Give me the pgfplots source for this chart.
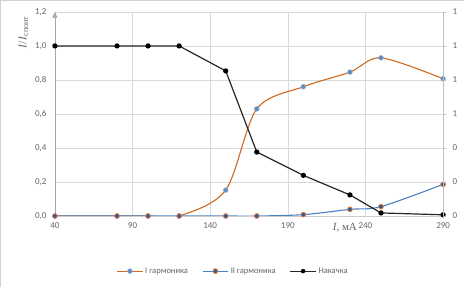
\documentclass[border=0pt]{standalone}
\usepackage{fontspec}
\setmainfont{Carlito}
\newfontfamily\seriffont{Liberation Serif}
\usepackage{pgfplots}
\usepackage{pgfplotstable}
\pgfplotsset{compat=1.18}
\usetikzlibrary{arrows.meta}
\definecolor{orline}{RGB}{208,104,32}
\definecolor{blline}{RGB}{72,130,196}
\definecolor{blmark}{RGB}{95,140,190}
\definecolor{dkblue}{RGB}{40,90,160}
\definecolor{ormark}{RGB}{237,125,49}
\definecolor{tick}{RGB}{100,100,100}
\pgfplotstableread{
x    I      II     N
40   0      0      1
80   0      0      1
100  0      0      1
120  0      0      1
150  0.152  0      0.853
170  0.630  0      0.376
200  0.760  0.008  0.239
230  0.846  0.039  0.124
250  0.930  0.055  0.018
290  0.807  0.186  0.007
}\datatab
\begin{document}
\begin{tikzpicture}
\begin{axis}[name=main, scale only axis, width=388pt, height=204pt,
  xmin=40, xmax=290, ymin=0, ymax=1.2,
  xtick={40,90,...,290}, ytick={0,0.2,0.4,0.6,0.8,1.0,1.2},
  grid=major, grid style={draw=black!15, line width=0.6pt},
  axis x line=bottom, axis y line=left,
  x axis line style={-, draw=black!20},
  y axis line style={-{Triangle[width=5pt,length=6pt]}, draw=black!35},
  major tick length=0pt,
  ticklabel style={font=\fontsize{9}{10}\selectfont, text=tick},
  xticklabel style={yshift=-3pt},
  /pgf/number format/assume math mode=true,
  yticklabel style={xshift=-5pt, /pgf/number format/.cd, fixed, fixed zerofill, precision=1, use comma},
  xlabel={\seriffont\fontsize{11}{12}\selectfont\textit{I}, мА},
  xlabel style={at={(axis description cs:0.747,0)}, anchor=center, yshift=-12pt, text=tick},
  ylabel={\seriffont\fontsize{11.5}{12}\selectfont\textit{I}/\textit{I}\textsubscript{спонт}},
  ylabel style={at={(ticklabel cs:0.9)}, text=tick},
  legend columns=3,
  legend style={draw=none, fill=none, font=\fontsize{8.5}{9}\selectfont, text=tick,
    at={(axis description cs:0.459,-0.27)}, anchor=center,
    /tikz/every even column/.append style={column sep=12pt}},
  legend cell align=left,
]
\addlegendimage{legend image code/.code={
  \draw[orline, line width=1.1pt] (0cm,0cm) -- (0.9cm,0cm);
  \filldraw[fill=blmark, draw=blmark!70!white, line width=0.5pt] (0.45cm,0cm) circle (2.4pt);}}
\addlegendentry{I гармоника}
\addlegendimage{legend image code/.code={
  \draw[blline, line width=1.1pt] (0cm,0cm) -- (0.9cm,0cm);
  \filldraw[fill=dkblue, draw=ormark, line width=0.8pt] (0.45cm,0cm) circle (2.4pt);}}
\addlegendentry{II гармоника}
\addlegendimage{legend image code/.code={
  \draw[black!85, line width=1.2pt] (0cm,0cm) -- (0.9cm,0cm);
  \filldraw[fill=black, draw=black] (0.45cm,0cm) circle (2pt);}}
\addlegendentry{Накачка}
\addplot[forget plot, orline, line width=1.1pt, smooth, mark=*, mark size=2.4pt,
  mark options={fill=blmark, draw=blmark!70!white, line width=0.5pt}] table[x=x,y=I]{\datatab};
\addplot[forget plot, blline, line width=1.1pt, smooth, mark=*, mark size=2.4pt,
  mark options={fill=dkblue, draw=ormark, line width=0.8pt}] table[x=x,y=II]{\datatab};
\addplot[forget plot, black!85, line width=1.2pt, mark=*, mark size=2pt,
  mark options={fill=black, draw=black}] table[x=x,y=N]{\datatab};
\end{axis}
\begin{axis}[scale only axis, width=388pt, height=204pt,
  xmin=40, xmax=290, ymin=0, ymax=1.2,
  axis x line=none, axis y line*=right,
  y axis line style={draw=black!25},
  ytick={0,0.2,0.4,0.6,0.8,1.0,1.2},
  yticklabels={0,0,0,1,1,1,1},
  tick align=outside, major tick length=3pt,
  ytick style={draw=black!25},
  ticklabel style={font=\fontsize{9}{10}\selectfont, text=tick},
  yticklabel style={xshift=3pt},
]
\addplot[draw=none] coordinates {(40,0)};
\end{axis}
\draw[black!18] ([shift={(-54.7pt,-70.7pt)}]main.south west) rectangle ([shift={(20.7pt,11.7pt)}]main.north east);
\end{tikzpicture}
\end{document}
